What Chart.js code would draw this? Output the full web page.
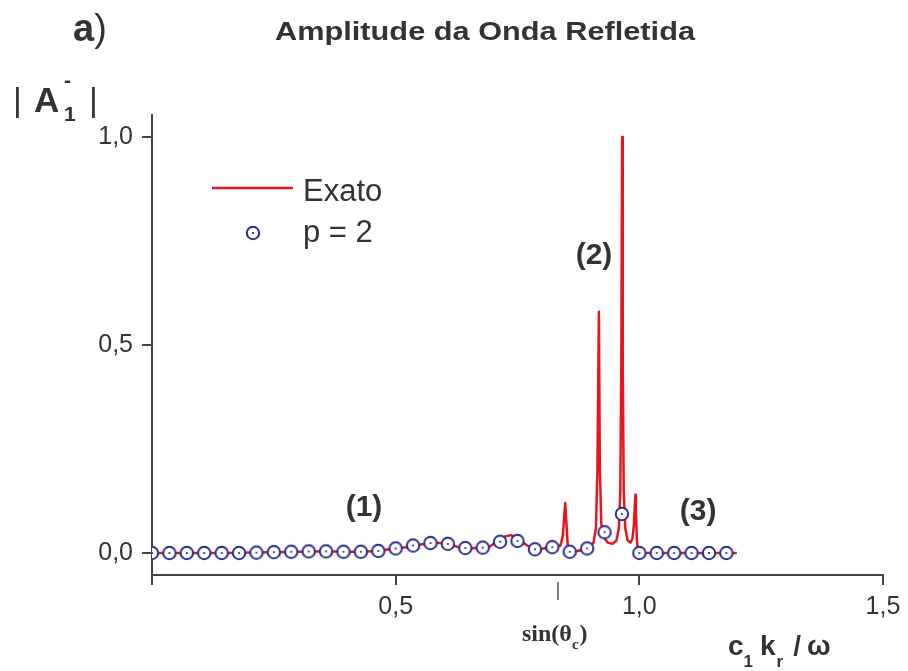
<!DOCTYPE html>
<html>
<head>
<meta charset="utf-8">
<script src="https://cdn.jsdelivr.net/npm/chart.js@4"></script>
<style>
  html, body { margin: 0; padding: 0; background: #fff; }
  #wrap { width: 908px; height: 671px; }
</style>
</head>
<body>
<div id="wrap"><canvas id="chart" width="908" height="671"></canvas></div>
<script>
// p = 2 (circle markers)
const p2X = [0, 0.0357, 0.0714, 0.1071, 0.1429, 0.1786, 0.2143, 0.25, 0.2857, 0.3214,
             0.3571, 0.3929, 0.4286, 0.4643, 0.5, 0.5357, 0.5714, 0.6071, 0.6429, 0.6786,
             0.7143, 0.75, 0.7857, 0.8214, 0.8571, 0.8929, 0.9286, 0.9643, 1.0, 1.0357,
             1.0714, 1.1071, 1.1429, 1.1786];
const p2Y = [0, 0, 0, 0, 0, 0, 0.001, 0.002, 0.003, 0.004,
             0.004, 0.003, 0.003, 0.005, 0.011, 0.018, 0.024, 0.022, 0.012, 0.013,
             0.027, 0.029, 0.009, 0.014, 0.003, 0.011, 0.05, 0.094, 0, 0,
             0, 0, 0, 0];

// exact solution (red line)
const exatoX = [0, 0.05, 0.1, 0.15, 0.2, 0.25, 0.3, 0.35, 0.4, 0.43,
                0.46, 0.48, 0.5, 0.52, 0.54, 0.56, 0.575, 0.59, 0.605, 0.62,
                0.635, 0.65, 0.665, 0.68, 0.695, 0.71, 0.725, 0.737, 0.748, 0.758,
                0.77, 0.785, 0.80, 0.815, 0.83, 0.838, 0.843, 0.846, 0.848, 0.850,
                0.853, 0.858, 0.87, 0.885, 0.898, 0.906, 0.911, 0.914, 0.917, 0.919,
                0.922, 0.927, 0.935, 0.945, 0.953, 0.958, 0.961, 0.963, 0.9647, 0.966,
                0.968, 0.971, 0.976, 0.982, 0.986, 0.989, 0.991, 0.992, 0.993, 0.995,
                0.997, 1.0, 1.2];
const exatoY = [0, 0, 0, 0, 0.001, 0.002, 0.003, 0.004, 0.003, 0.003,
                0.005, 0.008, 0.011, 0.014, 0.018, 0.022, 0.024, 0.024, 0.022, 0.017,
                0.012, 0.011, 0.012, 0.013, 0.017, 0.03, 0.04, 0.043, 0.036, 0.028,
                0.018, 0.009, 0.01, 0.013, 0.014, 0.018, 0.04, 0.09, 0.12, 0.08,
                0.02, 0.006, 0.004, 0.008, 0.013, 0.025, 0.06, 0.2, 0.58, 0.2,
                0.07, 0.038, 0.025, 0.022, 0.03, 0.06, 0.15, 0.45, 1.0, 0.45,
                0.15, 0.06, 0.03, 0.025, 0.035, 0.07, 0.12, 0.14, 0.1, 0.03,
                0.008, 0, 0];

const xTicks = [0, 0.5, 1.0, 1.5];
const yTicks = [0, 0.5, 1.0];
const sinThetaC = 0.833;
const notes = [
  { text: '(1)', x: 0.435, y: 0.089 },
  { text: '(2)', x: 0.907, y: 0.695 },
  { text: '(3)', x: 1.1205, y: 0.079 }
];

const RED = '#e8151d';
const NAVY = '#2b2d8c';
const AXIS = '#444';
const TEXT = '#333';
const SANS = '"Liberation Sans", Arial, Helvetica, sans-serif';
const SERIF = '"Liberation Serif", "Times New Roman", serif';

// circle with a dot in the middle
const markerImg = document.createElement('canvas');
markerImg.width = 18; markerImg.height = 18;
const m = markerImg.getContext('2d');
m.beginPath(); m.arc(9, 9, 6.2, 0, Math.PI * 2);
m.fillStyle = '#fff'; m.fill();
m.lineWidth = 2; m.strokeStyle = NAVY; m.stroke();
m.beginPath(); m.arc(9, 9, 1.1, 0, Math.PI * 2);
m.fillStyle = NAVY; m.fill();

const fmt = v => v.toFixed(1).replace('.', ',');

// run of text pieces, each {s, font, dx, dy}
const drawRun = (ctx, x, y, parts) => {
  parts.forEach(p => {
    ctx.font = p.font;
    ctx.fillText(p.s, x + (p.dx || 0), y + (p.dy || 0));
    x += ctx.measureText(p.s).width + (p.dx || 0);
  });
};

const decorPlugin = {
  id: 'decor',
  afterDraw(chart) {
    const ctx = chart.ctx;
    const xs = chart.scales.x, ys = chart.scales.y;
    ctx.save();
    ctx.fillStyle = TEXT;
    ctx.textBaseline = 'alphabetic';
    ctx.textAlign = 'left';

    // title, a bit wider than the font
    const title = 'Amplitude da Onda Refletida';
    ctx.font = 'bold 26px ' + SANS;
    const tw = ctx.measureText(title).width;
    ctx.save();
    ctx.translate(485, 40);
    ctx.scale(420 / tw, 1);
    ctx.textAlign = 'center';
    ctx.fillText(title, 0, 0);
    ctx.restore();

    // a)
    drawRun(ctx, 73, 41, [
      { s: 'a', font: 'bold 38px ' + SANS },
      { s: ')', font: '38px ' + SANS }
    ]);

    // | A1- |
    ctx.font = '34px ' + SANS;
    ctx.fillText('|', 13, 111);
    ctx.font = 'bold 35px ' + SANS;
    ctx.fillText('A', 34, 112);
    ctx.font = 'bold 21px ' + SANS;
    ctx.fillText('1', 64, 121);
    ctx.fillText('-', 64, 87);
    ctx.font = '34px ' + SANS;
    ctx.fillText('|', 89, 111);

    // annotations
    ctx.font = 'bold 30px ' + SANS;
    ctx.textAlign = 'center';
    notes.forEach(n => ctx.fillText(n.text, xs.getPixelForValue(n.x), ys.getPixelForValue(n.y)));
    ctx.textAlign = 'left';

    // sin(theta_c) mark below axis
    const sx = xs.getPixelForValue(sinThetaC);
    ctx.strokeStyle = '#555';
    ctx.lineWidth = 1.5;
    ctx.beginPath(); ctx.moveTo(sx, 582); ctx.lineTo(sx, 600); ctx.stroke();
    drawRun(ctx, 522, 641, [
      { s: 'sin(\u03B8', font: 'bold 24px ' + SERIF },
      { s: 'c', font: 'bold 15px ' + SERIF, dy: 8 },
      { s: ')', font: 'bold 24px ' + SERIF, dx: 1 }
    ]);

    // x axis title c1 kr / omega
    drawRun(ctx, 728, 655, [
      { s: 'c', font: 'bold 28px ' + SANS },
      { s: '1', font: 'bold 17px ' + SANS, dy: 12 },
      { s: 'k', font: 'bold 28px ' + SANS, dx: 7 },
      { s: 'r', font: 'bold 17px ' + SANS, dy: 12, dx: 1 },
      { s: '/', font: 'bold 28px ' + SANS, dx: 10 },
      { s: '\u03C9', font: 'bold 28px ' + SANS, dx: 6 }
    ]);

    // legend
    ctx.strokeStyle = RED;
    ctx.lineWidth = 2.5;
    ctx.beginPath(); ctx.moveTo(212, 188); ctx.lineTo(293, 188); ctx.stroke();
    ctx.drawImage(markerImg, 253 - 9, 233 - 9);
    ctx.font = '31px ' + SANS;
    ctx.fillText('Exato', 303, 201);
    ctx.fillText('p = 2', 303, 242);
    ctx.restore();
  }
};

new Chart(document.getElementById('chart'), {
  type: 'scatter',
  data: {
    datasets: [
      {
        label: 'p = 2',
        data: p2X.map((x, i) => ({ x: x, y: p2Y[i] })),
        pointStyle: markerImg,
        pointRadius: 7,
        showLine: false
      },
      {
        label: 'Exato',
        data: exatoX.map((x, i) => ({ x: x, y: exatoY[i] })),
        showLine: true,
        borderColor: RED,
        borderWidth: 2.5,
        borderJoinStyle: 'round',
        pointRadius: 0,
        tension: 0
      }
    ]
  },
  options: {
    responsive: false,
    animation: false,
    events: [],
    layout: { padding: { left: 0, top: 115, right: 25, bottom: 0 } },
    plugins: { legend: { display: false }, tooltip: { enabled: false } },
    scales: {
      x: {
        type: 'linear',
        min: 0,
        max: 1.5,
        afterBuildTicks: s => { s.ticks = xTicks.map(v => ({ value: v })); },
        afterFit: s => { s.height = 96; },
        grid: { drawOnChartArea: false, drawTicks: true, tickLength: 10, color: AXIS, lineWidth: 2 },
        border: { display: true, color: AXIS, width: 2 },
        ticks: {
          padding: 7, color: TEXT, maxRotation: 0, autoSkip: false,
          font: { family: SANS, size: 25 },
          callback: v => v === 0 ? '' : fmt(v)
        }
      },
      y: {
        type: 'linear',
        min: -0.0529,
        max: 1.0529,
        afterBuildTicks: s => { s.ticks = yTicks.map(v => ({ value: v })); },
        afterFit: s => { s.width = 152; },
        grid: { drawOnChartArea: false, drawTicks: true, tickLength: 10, color: AXIS, lineWidth: 2 },
        border: { display: true, color: AXIS, width: 2 },
        ticks: {
          padding: 9, color: TEXT,
          font: { family: SANS, size: 25 },
          callback: v => fmt(v)
        }
      }
    }
  },
  plugins: [decorPlugin]
});
</script>
</body>
</html>
